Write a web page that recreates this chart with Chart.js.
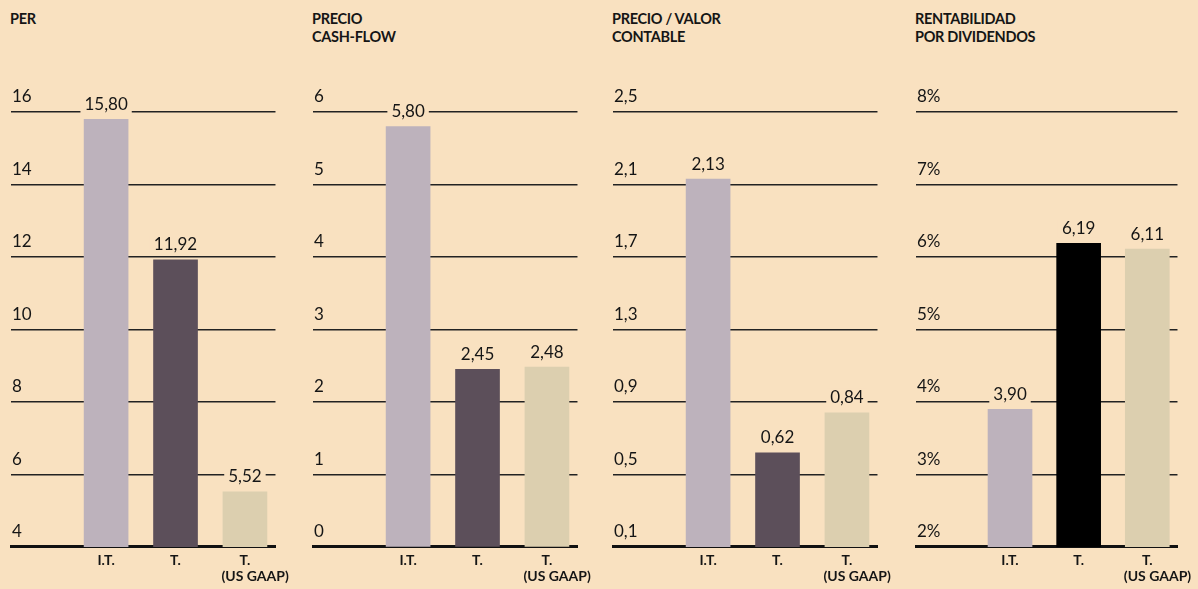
<!DOCTYPE html>
<html>
<head>
<meta charset="utf-8">
<script src="https://cdn.jsdelivr.net/npm/chart.js@4/dist/chart.umd.min.js"></script>
<style>
  html, body { margin: 0; padding: 0; background: #f9e1c0; }
  #wrap { position: relative; width: 1198px; height: 589px; overflow: hidden; background: #f9e1c0; }
  canvas { position: absolute; top: 0; }
  .title { position: absolute; top: 10px; font-family: Lato, "Open Sans", sans-serif; font-weight: 700;
           font-size: 14.5px; line-height: 18px; color: #151515; letter-spacing: -0.3px; }
</style>
</head>
<body>
<div id="wrap">
  <div class="title" style="left:10px">PER</div>
  <div class="title" style="left:312px">PRECIO<br>CASH-FLOW</div>
  <div class="title" style="left:612px">PRECIO / VALOR<br>CONTABLE</div>
  <div class="title" style="left:915px">RENTABILIDAD<br>POR DIVIDENDOS</div>
  <canvas id="c1" width="296" height="589" style="left:0px"></canvas>
  <canvas id="c2" width="296" height="589" style="left:302px"></canvas>
  <canvas id="c3" width="296" height="589" style="left:602px"></canvas>
  <canvas id="c4" width="293" height="589" style="left:905px"></canvas>
</div>
<script>
// ---- data ----
const categories = ['I.T.', 'T.', ['T.', '      (US GAAP)']];
const perValues = [15.80, 11.92, 5.52];
const pcfValues = [5.80, 2.45, 2.48];
const pvcValues = [2.13, 0.62, 0.84];
const rpdValues = [3.90, 6.19, 6.11];
const perTicks = [4, 6, 8, 10, 12, 14, 16];
const pcfTicks = [0, 1, 2, 3, 4, 5, 6];
const pvcTicks = [0.1, 0.5, 0.9, 1.3, 1.7, 2.1, 2.5];
const rpdTicks = [2, 3, 4, 5, 6, 7, 8];

const BG = '#f9e1c0';
const FONT = 'Lato, "Open Sans", sans-serif';
const colIT = '#bdb2bc';
const colT = '#5c4f5a';
const colUS = '#dccfaf';

const fmtNum = v => String(v).replace('.', ',');
const fmtVal = v => v.toFixed(2).replace('.', ',');
const fmtPct = v => v + '%';

const valueLabels = {
  id: 'valueLabels',
  afterDatasetsDraw(chart) {
    const ctx = chart.ctx;
    const meta = chart.getDatasetMeta(0);
    const data = chart.data.datasets[0].data;
    ctx.save();
    ctx.font = '17px ' + FONT;
    ctx.textAlign = 'center';
    ctx.textBaseline = 'middle';
    meta.data.forEach((bar, i) => {
      const txt = fmtVal(data[i].y);
      const w = ctx.measureText(txt).width;
      const cy = bar.y - 15;
      ctx.fillStyle = BG;
      ctx.fillRect(bar.x - w / 2 - 4, cy - 9, w + 8, 18);
      ctx.fillStyle = '#151515';
      ctx.fillText(txt, bar.x, cy);
    });
    ctx.restore();
  }
};

function makeChart(id, values, ticks, tickFmt, colors, rightPad) {
  new Chart(document.getElementById(id), {
    type: 'bar',
    data: {
      datasets: [{
        data: values.map((v, i) => ({ x: i + 1, y: v })),
        backgroundColor: colors,
        borderWidth: 0,
        barThickness: 44
      }]
    },
    options: {
      responsive: false,
      animation: false,
      layout: { padding: { left: 9, right: rightPad, top: 112, bottom: 0 } },
      plugins: { legend: { display: false }, tooltip: { enabled: false } },
      scales: {
        x: {
          type: 'linear',
          offset: false,
          min: -0.37,
          max: 3.44,
          afterBuildTicks: s => { s.ticks = [1, 2, 3].map(v => ({ value: v })); },
          grid: { display: false, drawTicks: false, offset: false },
          border: { display: true, color: '#111', width: 3 },
          ticks: {
            autoSkip: false,
            maxRotation: 0,
            padding: 5,
            color: '#151515',
            font: { family: FONT, size: 14, weight: 'bold', lineHeight: 1.143 },
            callback: v => categories[v - 1]
          }
        },
        y: {
          min: ticks[0],
          max: ticks[ticks.length - 1],
          afterBuildTicks: s => { s.ticks = ticks.map(v => ({ value: v })); },
          grid: { color: '#222', lineWidth: 1.4, drawTicks: false },
          border: { display: false },
          ticks: {
            mirror: true,
            padding: 1,
            labelOffset: -15,
            color: '#151515',
            font: { family: FONT, size: 17 },
            callback: v => tickFmt(v)
          }
        }
      }
    },
    plugins: [valueLabels]
  });
}

makeChart('c1', perValues, perTicks, fmtNum, [colIT, colT, colUS], 19);
makeChart('c2', pcfValues, pcfTicks, fmtNum, [colIT, colT, colUS], 19);
makeChart('c3', pvcValues, pvcTicks, fmtNum, [colIT, colT, colUS], 19);
makeChart('c4', rpdValues, rpdTicks, fmtPct, [colIT, '#000000', colUS], 16);
</script>
</body>
</html>
